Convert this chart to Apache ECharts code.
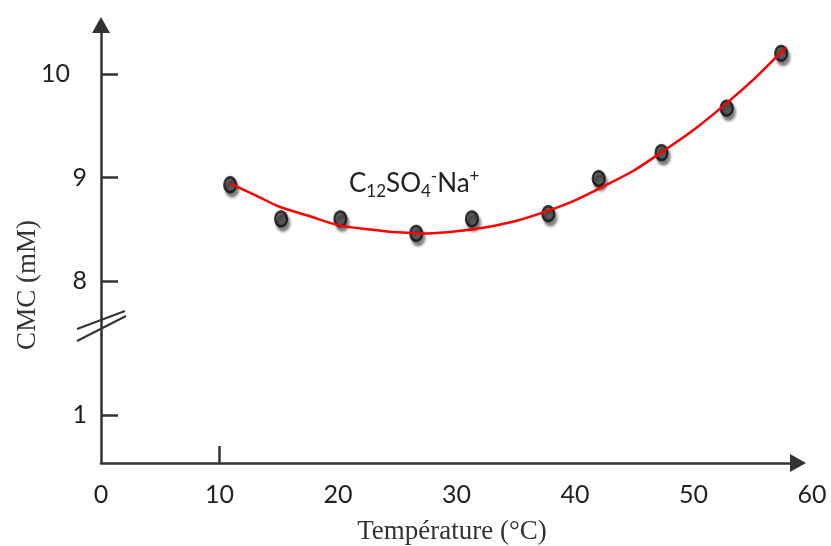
<!DOCTYPE html>
<html>
<head>
<meta charset="utf-8">
<script src="https://cdn.jsdelivr.net/npm/echarts@6/dist/echarts.min.js"></script>
<style>
html,body{margin:0;padding:0;background:#fff;}
#chart{width:831px;height:546px;}
</style>
</head>
<body>
<div id="chart"></div>
<script>
// Measured points
var tempPoints = [10.9, 15.2, 20.2, 26.6, 31.3, 37.75, 42.0, 47.3, 52.8, 57.4];
var cmcPoints  = [8.93, 8.60, 8.60, 8.46, 8.60, 8.65, 8.99, 9.24, 9.67, 10.20];
// Fitted curve
var curveTemp = [10.9, 13, 15, 17.5, 20, 22.5, 25, 27.5, 30, 32.5, 35, 37.5, 40, 42.5, 45, 47.5, 50, 52.5, 55, 57.8];
var curveCmc  = [8.94, 8.83, 8.72, 8.63, 8.54, 8.50, 8.47, 8.46, 8.48, 8.52, 8.58, 8.67, 8.78, 8.92, 9.07, 9.26, 9.46, 9.69, 9.94, 10.26];
// Tick labels
var xTicks = [0, 10, 20, 30, 40, 50, 60];
var xMarkTick = [10];
var yTicksUpper = [8, 9, 10];
var yTicksLower = [1];
var xTitle = 'Température (°C)';
var yTitle = 'CMC (mM)';
var seriesLabel = ['C', '12', 'SO', '4', '-', 'Na', '+'];

var axisColor = '#333';
var labelColor = '#222';

var scatterData = tempPoints.map(function (t, i) { return [t, cmcPoints[i]]; });
var curveData = curveTemp.map(function (t, i) { return [t, curveCmc[i]]; });

var chart = echarts.init(document.getElementById('chart'), null, {renderer: 'canvas'});
var option = {
  backgroundColor: '#fff',
  animation: false,
  grid: [
    {left: 101, right: 19, top: 25, bottom: 211, outerBoundsMode: 'none', containLabel: false},
    {left: 101, right: 19, top: 335, bottom: 83, outerBoundsMode: 'none', containLabel: false},
    {left: 101, right: 33, top: 335, bottom: 83, outerBoundsMode: 'none', containLabel: false}
  ],
  xAxis: [
    {gridIndex: 0, type: 'value', min: 0, max: 60, show: false},
    {
      gridIndex: 1, type: 'value', min: 0, max: 60,
      axisLine: {show: false},
      splitLine: {show: false},
      axisTick: {show: true, inside: true, length: 17, customValues: xMarkTick,
                 lineStyle: {color: axisColor, width: 2.5}},
      axisLabel: {show: true, customValues: xTicks, margin: 19,
                  fontFamily: 'Lato', fontSize: 25, color: labelColor}
    },
    {
      gridIndex: 2, type: 'value', min: 0, max: 58.8,
      axisLine: {show: true, symbol: ['none', 'triangle'], symbolSize: [18, 16],
                 lineStyle: {color: axisColor, width: 2.5}},
      axisTick: {show: false}, axisLabel: {show: false}, splitLine: {show: false}
    }
  ],
  yAxis: [
    {
      gridIndex: 0, type: 'value', min: 7.4783, max: 10.4734,
      axisLine: {show: true, symbol: ['none', 'triangle'], symbolSize: [18, 16],
                 lineStyle: {color: axisColor, width: 2.5}},
      splitLine: {show: false},
      axisTick: {show: true, inside: true, length: 17, customValues: yTicksUpper,
                 lineStyle: {color: axisColor, width: 2.5}},
      axisLabel: {show: true, customValues: yTicksUpper, margin: 14,
                  fontFamily: 'Lato', fontSize: 25, color: labelColor,
                  formatter: function (v) { return v >= 10 ? '{w|' + v + '}' : String(v); },
                  rich: {w: {fontFamily: 'Lato', fontSize: 25, color: labelColor, padding: [0, 17, 0, 0]}}}
    },
    {
      gridIndex: 1, type: 'value', min: 0, max: 2.6667,
      axisLine: {show: true, lineStyle: {color: axisColor, width: 2.5}},
      splitLine: {show: false},
      axisTick: {show: true, inside: true, length: 17, customValues: yTicksLower,
                 lineStyle: {color: axisColor, width: 2.5}},
      axisLabel: {show: true, customValues: yTicksLower, margin: 14,
                  fontFamily: 'Lato', fontSize: 25, color: labelColor}
    },
    {gridIndex: 2, type: 'value', min: 0, max: 1, show: false}
  ],
  series: [
    {
      type: 'scatter', xAxisIndex: 0, yAxisIndex: 0,
      data: scatterData,
      symbol: 'circle', symbolSize: [12, 15],
      itemStyle: {color: '#4a4a4a', borderColor: '#111', borderWidth: 2.5,
                  shadowColor: 'rgba(0,0,0,0.55)', shadowBlur: 3, shadowOffsetX: 2, shadowOffsetY: 4},
      z: 2
    },
    {
      type: 'line', xAxisIndex: 0, yAxisIndex: 0,
      data: curveData, smooth: 0.3, showSymbol: false,
      lineStyle: {color: '#ff0000', width: 2.5},
      z: 3
    }
  ],
  graphic: [
    {type: 'line', shape: {x1: 77, y1: 329, x2: 125, y2: 311},
     style: {stroke: axisColor, lineWidth: 2}, z: 100},
    {type: 'line', shape: {x1: 77, y1: 341, x2: 126, y2: 316},
     style: {stroke: axisColor, lineWidth: 2}, z: 100},
    {type: 'text', x: 28, y: 285, rotation: Math.PI / 2,
     style: {text: yTitle, font: '27px "Liberation Serif"', fill: '#333',
             textAlign: 'center', textVerticalAlign: 'middle'}},
    {type: 'text', x: 452, y: 532,
     style: {text: xTitle, font: '27px "Liberation Serif"', fill: '#333',
             textAlign: 'center', textVerticalAlign: 'middle'}},
    {type: 'text', x: 349, y: 184,
     style: {
       text: '{n|' + seriesLabel[0] + '}{sub|' + seriesLabel[1] + '}{n|' + seriesLabel[2] + '}{sub|' +
             seriesLabel[3] + '}{sup|' + seriesLabel[4] + '}{n|' + seriesLabel[5] + '}{sup|' + seriesLabel[6] + '}',
       textAlign: 'left', textVerticalAlign: 'middle',
       rich: {
         n: {fontFamily: 'Lato', fontSize: 26, lineHeight: 32, fill: '#222', color: '#222'},
         sub: {fontFamily: 'Lato', fontSize: 17, lineHeight: 17, verticalAlign: 'bottom', fill: '#222', color: '#222'},
         sup: {fontFamily: 'Lato', fontSize: 17, lineHeight: 17, verticalAlign: 'top', fill: '#222', color: '#222'}
       }
     }}
  ]
};
chart.setOption(option);
</script>
</body>
</html>
